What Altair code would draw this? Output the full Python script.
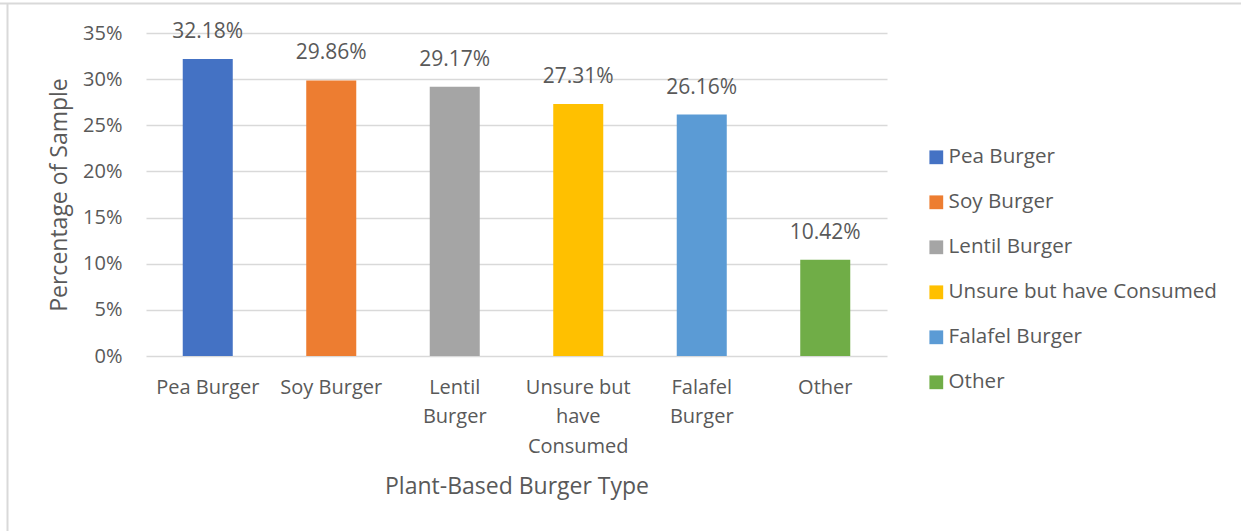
import altair as alt
import pandas as pd

categories = ["Pea Burger", "Soy Burger", "Lentil Burger", "Unsure but have Consumed", "Falafel Burger", "Other"]
values = [0.3218, 0.2986, 0.2917, 0.2731, 0.2616, 0.1042]
colors = ["#4472C4", "#ED7D31", "#A5A5A5", "#FFC000", "#5B9BD5", "#70AD47"]
label_lines = [["Pea Burger"], ["Soy Burger"], ["Lentil", "Burger"], ["Unsure but", "have", "Consumed"], ["Falafel", "Burger"], ["Other"]]
y_ticks = [0, 0.05, 0.10, 0.15, 0.20, 0.25, 0.30, 0.35]

df = pd.DataFrame({"type": categories, "pct": values})

# build multi-line label expression
expr = "datum.label"
for cat, lines in reversed(list(zip(categories, label_lines))):
    arr = "[" + ",".join("'" + l + "'" for l in lines) + "]"
    expr = f"datum.label == '{cat}' ? {arr} : ({expr})"

FONT = "Open Sans"
TXT = "#595959"
W, H = 741, 323
LEFT, TOP = 146, 33

x_enc = alt.X("type:N", sort=categories,
              scale=alt.Scale(paddingInner=0.595, paddingOuter=0.2975),
              axis=alt.Axis(title="Plant-Based Burger Type", labelAngle=0, labelExpr=expr,
                            labelLineHeight=29.5, labelPadding=21, ticks=False, domain=False,
                            grid=False, titlePadding=19, labelBaseline="top"))
y_enc = alt.Y("pct:Q", scale=alt.Scale(domain=[0, 0.35], nice=False),
              axis=alt.Axis(title="Percentage of Sample", format=".0%", values=y_ticks,
                            ticks=False, domain=False, labelPadding=24, titlePadding=11,
                            gridColor="#d9d9d9", gridWidth=1.5))

bars = alt.Chart(df).mark_bar().encode(
    x=x_enc, y=y_enc,
    color=alt.Color("type:N", sort=categories,
                    scale=alt.Scale(domain=categories, range=colors),
                    legend=alt.Legend(title=None, orient="none", legendX=780, legendY=114,
                                      symbolType="square", symbolSize=190, symbolStrokeWidth=0,
                                      labelFontSize=20.6, labelColor=TXT, labelFont=FONT,
                                      rowPadding=24, labelOffset=2, labelLimit=400))
)

text = alt.Chart(df).mark_text(baseline="bottom", dy=-17, fontSize=21, font=FONT, color=TXT).encode(
    x=alt.X("type:N", sort=categories),
    y="pct:Q",
    text=alt.Text("pct:Q", format=".2%")
)

one = alt.Data(values=[{"a": 1}])
top_border = alt.Chart(one).mark_rule(color="#d9d9d9", strokeWidth=2).encode(
    x=alt.value(-LEFT), x2=alt.value(1241 - LEFT), y=alt.value(3.5 - TOP))
left_border = alt.Chart(one).mark_rule(color="#d9d9d9", strokeWidth=2).encode(
    x=alt.value(7.5 - LEFT), y=alt.value(3 - TOP), y2=alt.value(531 - TOP))

chart = alt.layer(bars, text, top_border, left_border).properties(
    width=W, height=H,
    autosize=alt.AutoSizeParams(type="none"),
    padding={"left": LEFT, "top": TOP, "right": 1241 - LEFT - W, "bottom": 531 - TOP - H},
    background="white",
).configure_view(stroke=None).configure_axis(
    labelFont=FONT, titleFont=FONT, labelFontSize=20, titleFontSize=23,
    labelColor=TXT, titleColor=TXT, titleFontWeight="normal"
)

chart.save("out.html", embed_options={"renderer": "svg", "actions": False})
